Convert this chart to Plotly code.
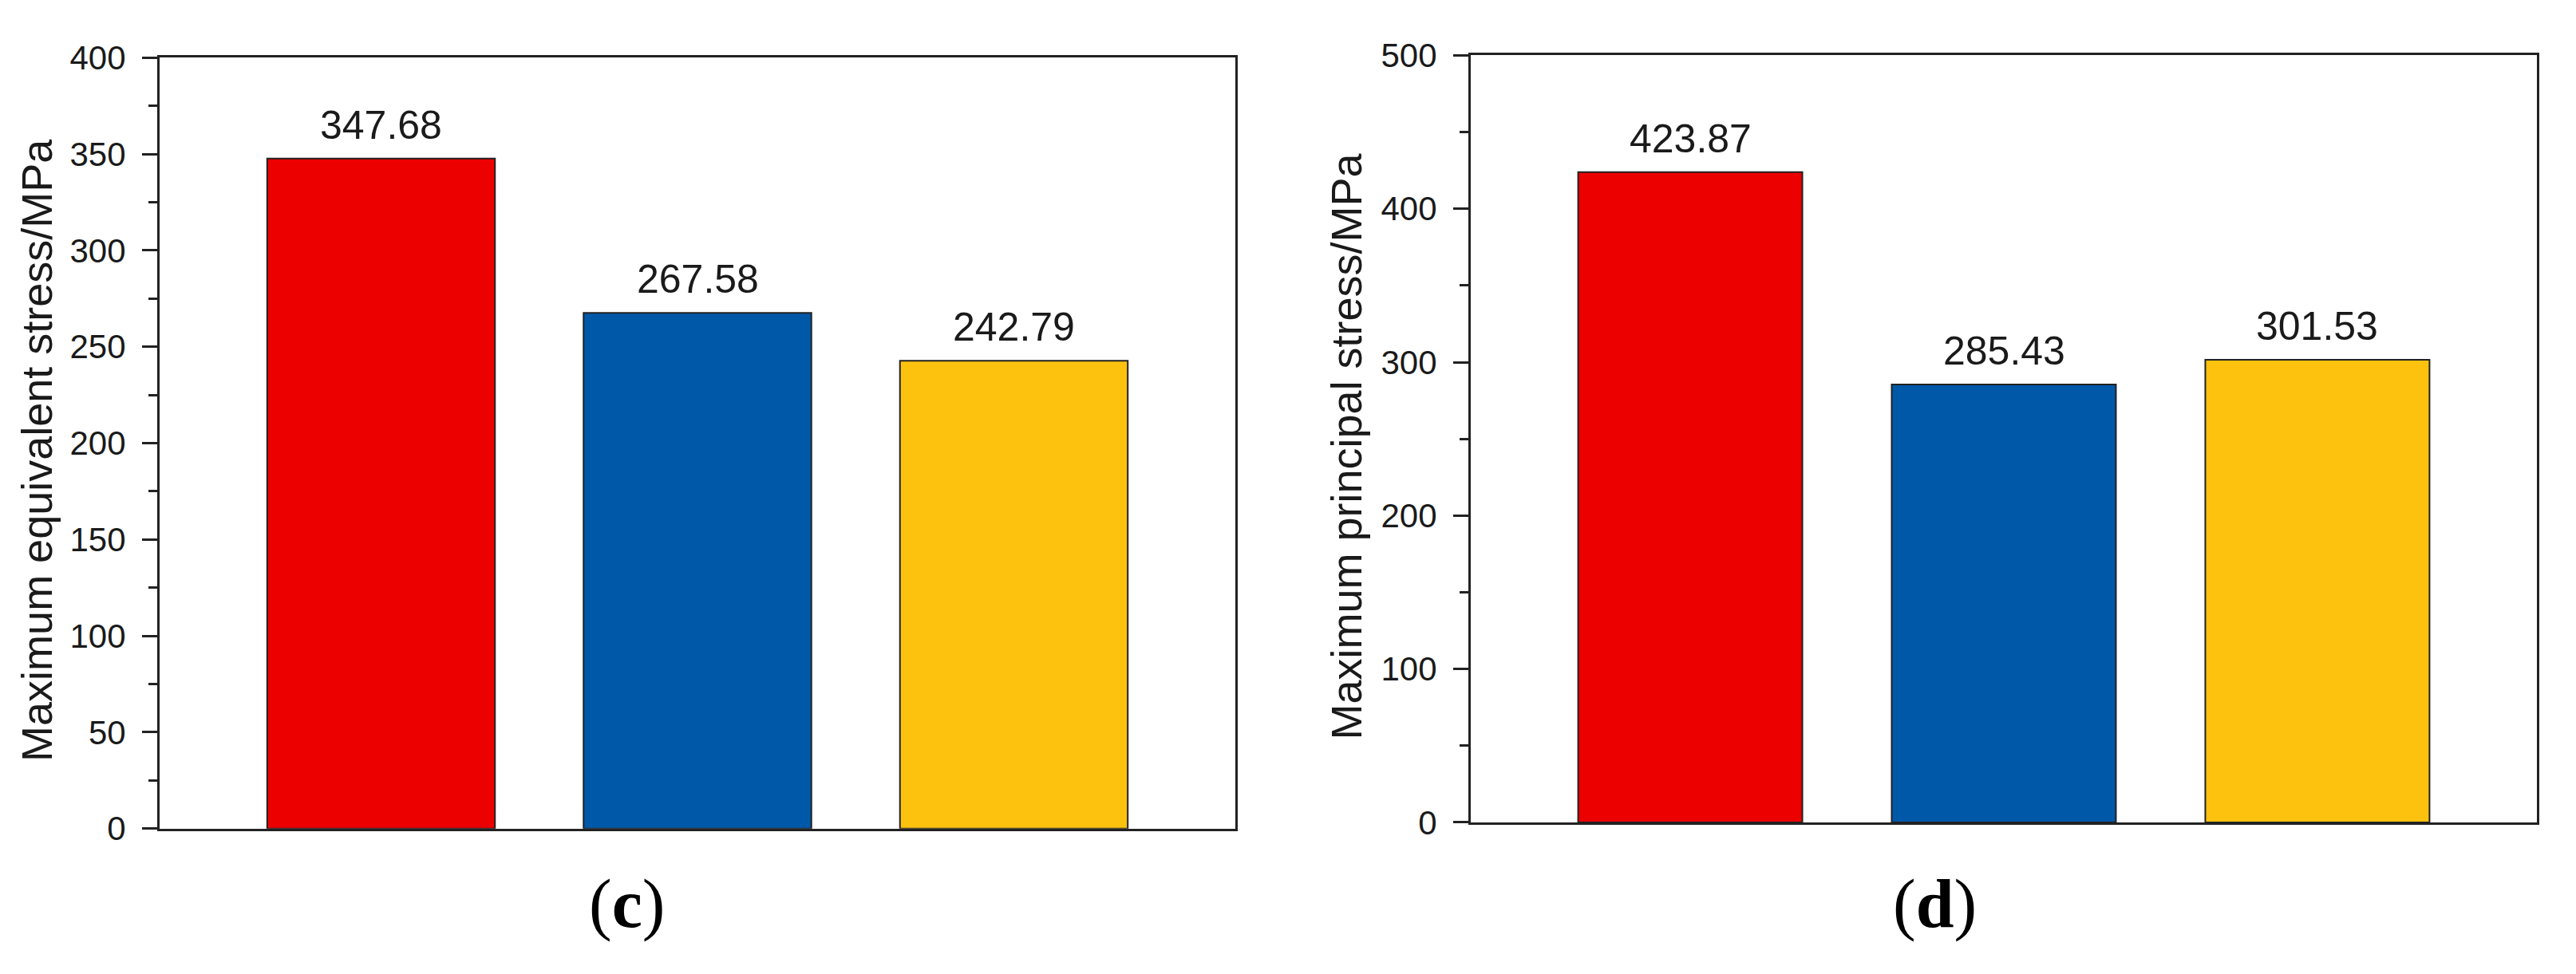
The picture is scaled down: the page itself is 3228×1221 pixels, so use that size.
import plotly.graph_objects as go

# ---- data ----
categories = ["A", "B", "C"]
equivalent_stress = [347.68, 267.58, 242.79]   # panel (c)
principal_stress = [423.87, 285.43, 301.53]    # panel (d)
bar_colors = ["#EC0000", "#0058A9", "#FCC20E"]
panel_labels = ["c", "d"]
y_titles = ["Maximum equivalent stress/MPa", "Maximum principal stress/MPa"]

W, H = 3228, 1221
OFF = 8  # browser default body margin
FONT = "Liberation Sans, Arial, sans-serif"
TXT = "#1a1a1a"

def px_x(p):
    return (p - OFF) / W

def px_y(p):
    return 1 - (p - OFF) / H

fig = go.Figure()

fig.add_trace(go.Bar(x=categories, y=equivalent_stress, marker=dict(color=bar_colors, line=dict(color="#222", width=2)),
                     width=0.72, xaxis="x", yaxis="y", showlegend=False))
fig.add_trace(go.Bar(x=categories, y=principal_stress, marker=dict(color=bar_colors, line=dict(color="#222", width=2)),
                     width=0.715, xaxis="x2", yaxis="y2", showlegend=False))

def xax(domain, anchor):
    return dict(domain=domain, anchor=anchor, range=[-0.7, 2.7], showticklabels=False, ticks="",
                showline=True, linecolor="#222", linewidth=3, mirror=True, showgrid=False, zeroline=False)

def yax(domain, anchor, rng, dtick, mdtick):
    return dict(domain=domain, anchor=anchor, range=rng, dtick=dtick, tick0=0, ticks="outside", ticklen=19,
                tickwidth=3, tickcolor="#222", showline=True, linecolor="#222", linewidth=3, mirror=True,
                showgrid=False, zeroline=False, tickfont=dict(family=FONT, size=42, color=TXT),
                ticklabelstandoff=12,
                minor=dict(dtick=mdtick, ticks="outside", ticklen=11, tickwidth=3, tickcolor="#222", showgrid=False))

xd1 = [px_x(200), px_x(1548)]
xd2 = [px_x(1843), px_x(3179)]
yd1 = [px_y(1056), px_y(51)]
yd2 = [px_y(1048), px_y(48)]

annotations = []
for xa, ya, vals in (("x", "y", equivalent_stress), ("x2", "y2", principal_stress)):
    for c, v in zip(categories, vals):
        annotations.append(dict(x=c, y=v, xref=xa, yref=ya, text=f"{v:.2f}", showarrow=False,
                                yanchor="bottom", yshift=12, font=dict(family=FONT, size=50, color=TXT)))

# axis titles
for xpx, yd, t in ((46, yd1, y_titles[0]), (1687, yd2, y_titles[1])):
    annotations.append(dict(x=px_x(xpx), y=(yd[0] + yd[1]) / 2 - 0.008, xref="paper", yref="paper", text=t,
                            textangle=-90, showarrow=False, xanchor="center", yanchor="middle",
                            font=dict(family=FONT, size=54, color=TXT)))

# panel labels
for xpx, lab in ((785, panel_labels[0]), (2424, panel_labels[1])):
    annotations.append(dict(x=px_x(xpx), y=px_y(1154), xref="paper", yref="paper", text=f"(<b>{lab}</b>)",
                            showarrow=False, xanchor="center", yanchor="middle",
                            font=dict(family="Liberation Serif, Times New Roman, serif", size=86, color="#000")))

fig.update_layout(
    width=W, height=H, margin=dict(l=0, r=0, t=0, b=0),
    paper_bgcolor="white", plot_bgcolor="white", bargap=0.28,
    xaxis=xax(xd1, "y"), yaxis=yax(yd1, "x", [0, 400], 50, 25),
    xaxis2=xax(xd2, "y2"), yaxis2=yax(yd2, "x2", [0, 500], 100, 50),
    annotations=annotations,
)

fig.write_html("out.html")
